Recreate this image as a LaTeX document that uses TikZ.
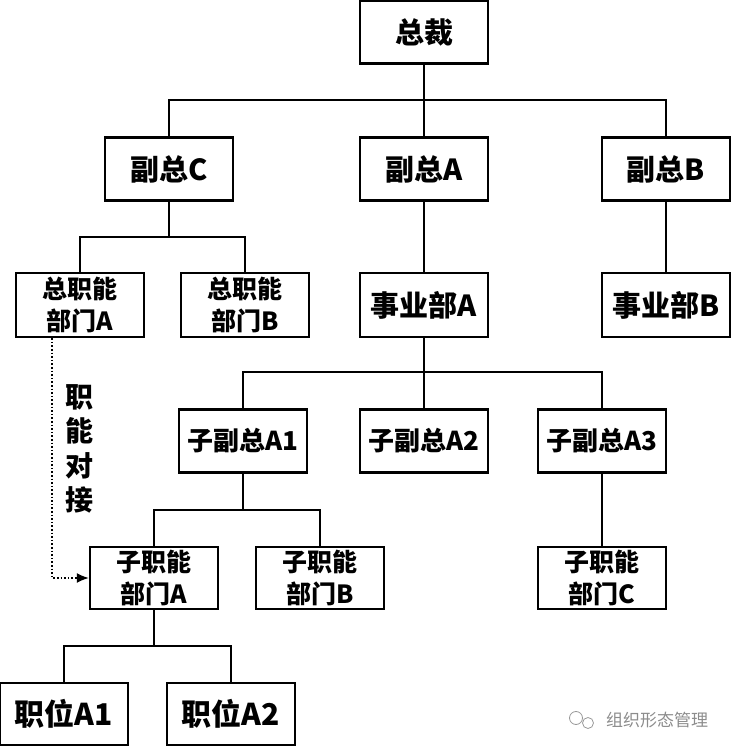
\documentclass[tikz,border=0pt]{standalone}
\usepackage{fontspec}
\newfontfamily\cjk{Noto Sans CJK SC}
\usetikzlibrary{arrows.meta}

\tikzset{
  unit/.style={draw, line width=2.4pt, minimum width=128pt, minimum height=63pt, inner sep=0pt, align=center, font=\cjk\bfseries\fontsize{29}{32}\selectfont},
  unittwo/.style={unit, minimum height=64pt, font=\cjk\bfseries\fontsize{25}{32}\selectfont},
  link/.style={line width=2.2pt},
}

\begin{document}
\begin{tikzpicture}[x=1pt, y=1pt]

\useasboundingbox (0,0) rectangle (734,750);

\node[unit] (zongcai) at (424,718) {总裁};

\node[unit] (fuC) at (169,581) {副总C};
\node[unit] (fuA) at (424,581) {副总A};
\node[unit] (fuB) at (666,581) {副总B};

\node[unittwo] (zongA) at (80,445) {总职能\\部门A};
\node[unittwo] (zongB) at (245,445) {总职能\\部门B};
\node[unit, minimum height=64pt] (shiA) at (424,445) {事业部A};
\node[unit, minimum height=64pt] (shiB) at (666,445) {事业部B};

\node[unit, font=\cjk\bfseries\fontsize{26}{30}\selectfont] (ziA1) at (243,309) {子副总A1};
\node[unit, font=\cjk\bfseries\fontsize{26}{30}\selectfont] (ziA2) at (424,309) {子副总A2};
\node[unit, font=\cjk\bfseries\fontsize{26}{30}\selectfont] (ziA3) at (602,309) {子副总A3};

\node[unittwo, minimum height=62pt] (zhiA) at (154,172) {子职能\\部门A};
\node[unittwo, minimum height=62pt] (zhiB) at (320,172) {子职能\\部门B};
\node[unittwo, minimum height=62pt] (zhiC) at (602,172) {子职能\\部门C};

\node[unit, minimum height=62pt, font=\cjk\bfseries\fontsize{30}{32}\selectfont] (posA1) at (64,36) {职位A1};
\node[unit, minimum height=62pt, font=\cjk\bfseries\fontsize{30}{32}\selectfont] (posA2) at (231,36) {职位A2};

\coordinate (bar0) at (424,650);
\coordinate (bar1) at (169,513);
\coordinate (bar2) at (424,378);
\coordinate (bar3) at (243,240);
\coordinate (bar4) at (154,104);

\draw[link] (zongcai.south) -- (fuA.north);
\draw[link] (fuC.north) |- (bar0) -| (fuB.north);

\draw[link] (fuC.south) -- (bar1);
\draw[link] (zongA.north) |- (bar1) -| (zongB.north);
\draw[link] (fuA.south) -- (shiA.north);
\draw[link] (fuB.south) -- (shiB.north);

\draw[link] (shiA.south) -- (ziA2.north);
\draw[link] (ziA1.north) |- (bar2) -| (ziA3.north);

\draw[link] (ziA1.south) -- (bar3);
\draw[link] (zhiA.north) |- (bar3) -| (zhiB.north);
\draw[link] (ziA3.south) -- (zhiC.north);

\draw[link] (zhiA.south) -- (bar4);
\draw[link] (posA1.north) |- (bar4) -| (posA2.north);

\draw[line width=1.6pt, dotted, -{Latex[length=12pt, width=10pt]}] ([xshift=-28pt]zongA.south) |- (zhiA.west);

\node[align=center, font=\cjk\bfseries\fontsize{28}{34.5}\selectfont] (duijie) at (79,301) {职\\能\\对\\接};

\node[text=black!45, font=\cjk\fontsize{17}{20}\selectfont] (wmtext) at (657,30) {组织形态管理};
\draw[black!40, line width=0.8pt] (576,32) circle (6.5pt) (588,27) circle (5.5pt);

\end{tikzpicture}
\end{document}
